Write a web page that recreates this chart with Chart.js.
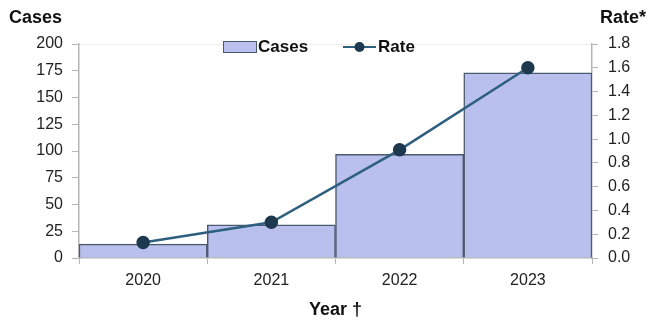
<!DOCTYPE html>
<html>
<head>
<meta charset="utf-8">
<script src="https://cdn.jsdelivr.net/npm/chart.js@4"></script>
<style>
  body { margin: 0; background: #fff; }
  #wrap { width: 646px; height: 325px; }
</style>
</head>
<body>
<div id="wrap"><canvas id="chart" width="646" height="325"></canvas></div>
<script>
// Data
const years = ['2020', '2021', '2022', '2023'];
const cases = [13, 31, 97, 173];
const rates = [0.13, 0.30, 0.91, 1.60];

const FONT = "'Liberation Sans Narrow', 'Liberation Sans', Arial, sans-serif";
const barFill = 'rgb(186,192,238)';
const barEdge = '#4b5a6e';
const lineColor = '#2f5f7f';
const dotColor = '#1d3950';
const axisGray = '#b5b5b5';

// Draws the axis headers and the in-plot legend
const extras = {
    id: 'extras',
    afterDraw(chart) {
        const ctx = chart.ctx;
        const area = chart.chartArea;
        ctx.save();
        ctx.fillStyle = '#111';
        ctx.font = 'bold 18px ' + FONT;
        ctx.textBaseline = 'middle';
        ctx.textAlign = 'left';
        ctx.fillText('Cases', 9, 18);
        ctx.fillText('Rate*', 600, 18);

        // legend
        const ly = 47;
        ctx.fillStyle = barFill;
        ctx.strokeStyle = barEdge;
        ctx.lineWidth = 1;
        ctx.fillRect(223, ly - 5, 33, 10);
        ctx.strokeRect(223.5, ly - 5.5, 33, 11);
        ctx.fillStyle = '#111';
        ctx.font = 'bold 17px ' + FONT;
        ctx.fillText('Cases', 258, ly);

        ctx.strokeStyle = lineColor;
        ctx.lineWidth = 2;
        ctx.beginPath();
        ctx.moveTo(343, ly);
        ctx.lineTo(376, ly);
        ctx.stroke();
        ctx.fillStyle = dotColor;
        ctx.beginPath();
        ctx.arc(359.5, ly, 5, 0, Math.PI * 2);
        ctx.fill();
        ctx.fillStyle = '#111';
        ctx.fillText('Rate', 378, ly);
        ctx.restore();
    }
};

new Chart(document.getElementById('chart'), {
    data: {
        labels: years,
        datasets: [
            {
                type: 'line',
                label: 'Rate',
                data: rates,
                yAxisID: 'yRate',
                borderColor: lineColor,
                borderWidth: 2.5,
                pointBackgroundColor: dotColor,
                pointBorderColor: dotColor,
                pointRadius: 5.5,
                tension: 0,
                order: 0
            },
            {
                type: 'bar',
                label: 'Cases',
                data: cases,
                yAxisID: 'yCases',
                backgroundColor: barFill,
                borderColor: barEdge,
                borderWidth: 1.5,
                categoryPercentage: 1,
                barPercentage: 1,
                order: 1
            }
        ]
    },
    options: {
        responsive: false,
        animation: false,
        layout: { padding: { top: 44, left: 0, right: 0, bottom: 0 } },
        plugins: {
            legend: { display: false },
            tooltip: { enabled: false }
        },
        scales: {
            x: {
                offset: true,
                grid: {
                    offset: true,
                    drawOnChartArea: false,
                    tickLength: 6,
                    tickColor: axisGray
                },
                border: { color: axisGray, width: 1.5 },
                ticks: { color: '#222', font: { family: FONT, size: 16 }, padding: 7 },
                title: {
                    display: true,
                    text: 'Year †',
                    color: '#111',
                    font: { family: FONT, size: 18, weight: 'bold' },
                    padding: { top: 8 }
                },
                afterFit(scale) { scale.height = 67; }
            },
            yCases: {
                position: 'left',
                min: 0,
                max: 200,
                ticks: { stepSize: 25, color: '#222', font: { family: FONT, size: 16 }, padding: 9 },
                grid: {
                    color: (c) => c.tick && c.tick.value === 200 ? '#eeeeee' : 'rgba(0,0,0,0)',
                    tickColor: axisGray,
                    tickLength: 7
                },
                border: { color: axisGray, width: 1.5 },
                afterFit(scale) { scale.width = 79; }
            },
            yRate: {
                position: 'right',
                min: 0,
                max: 1.8,
                ticks: {
                    stepSize: 0.2,
                    color: '#222',
                    font: { family: FONT, size: 16 },
                    padding: 10,
                    callback: (v) => v.toFixed(1)
                },
                grid: { drawOnChartArea: false, tickColor: axisGray, tickLength: 6 },
                border: { color: axisGray, width: 1.5 },
                afterFit(scale) { scale.width = 54; }
            }
        }
    },
    plugins: [extras]
});
</script>
</body>
</html>
